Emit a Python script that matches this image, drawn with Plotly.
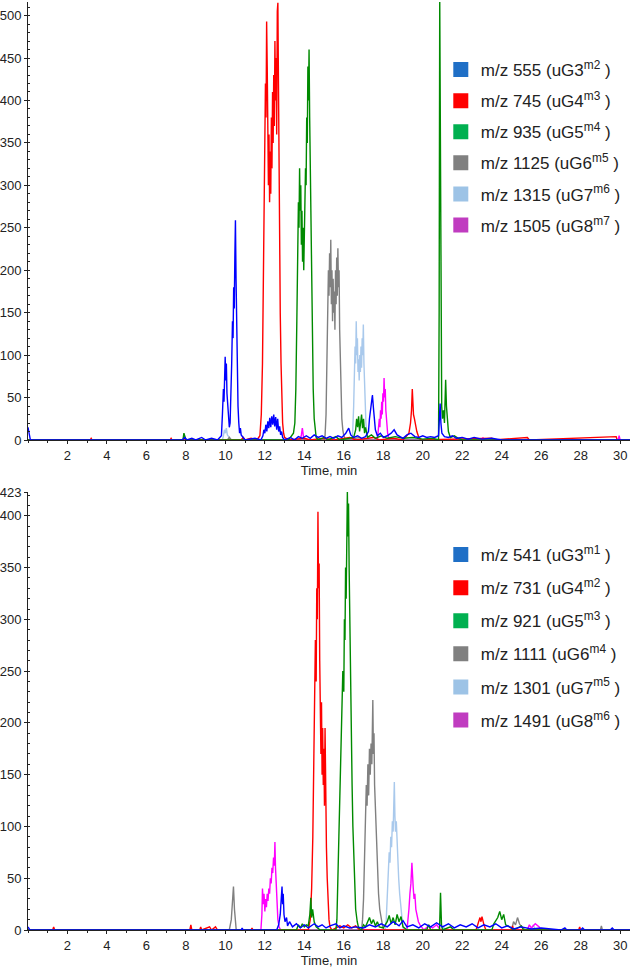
import plotly.graph_objects as go

# ---------------- data (time [min], intensity) ----------------
# Top panel: m/z 555 ... 1505
top_555 = [(0, 15), (0.06, 8), (0.12, 0), (7.8, 0), (7.95, 3), (8.05, 0), (8.3, 2), (8.5, 0), (8.8, 3), (9.0, 0),
           (9.3, 2), (9.6, 0), (9.8, 5), (9.85, 30), (9.9, 60), (9.93, 45), (9.96, 85), (9.99, 98), (10.02, 70),
           (10.05, 90), (10.08, 55), (10.12, 40), (10.16, 25), (10.2, 15), (10.24, 20), (10.28, 50), (10.32, 90),
           (10.36, 140), (10.39, 120), (10.42, 180), (10.45, 155), (10.48, 215), (10.51, 259), (10.54, 190),
           (10.57, 130), (10.6, 75), (10.64, 40), (10.68, 20), (10.72, 8), (10.76, 14), (10.8, 6), (10.9, 3),
           (11.0, 0), (11.5, 2), (11.8, 0), (11.9, 5), (11.95, 12), (12.0, 8), (12.05, 18), (12.1, 10), (12.15, 22),
           (12.2, 14), (12.25, 26), (12.3, 15), (12.35, 28), (12.4, 18), (12.45, 30), (12.5, 16), (12.55, 27),
           (12.6, 12), (12.65, 25), (12.7, 10), (12.75, 16), (12.8, 6), (12.85, 10), (12.9, 3), (13.0, 0), (13.3, 3),
           (13.5, 0), (13.7, 4), (13.9, 2), (14.1, 5), (14.3, 2), (14.5, 6), (14.7, 3), (14.9, 5), (15.1, 2),
           (15.3, 4), (15.5, 2), (15.7, 5), (15.9, 3), (16.1, 8), (16.25, 14), (16.35, 6), (16.5, 3), (16.7, 5),
           (16.9, 2), (17.1, 4), (17.25, 10), (17.3, 25), (17.35, 35), (17.4, 45), (17.45, 53), (17.5, 38),
           (17.55, 20), (17.6, 12), (17.7, 5), (17.85, 8), (18.0, 3), (18.2, 5), (18.4, 8), (18.55, 12), (18.7, 6),
           (18.85, 4), (19.0, 2), (19.2, 6), (19.4, 8), (19.6, 4), (19.8, 3), (20.0, 5), (20.2, 3), (20.4, 4),
           (20.6, 3), (20.8, 5), (20.85, 30), (20.88, 43), (20.92, 20), (20.97, 8), (21.1, 4), (21.3, 3), (21.5, 5),
           (21.7, 2), (22.0, 3), (22.3, 1), (22.6, 3), (23.0, 1), (23.5, 2), (24.0, 0), (30.5, 0)]
top_745 = [(0, 0), (3.15, 0), (3.2, 2), (3.25, 0), (7.2, 0), (7.25, 2), (7.3, 0), (10.8, 0), (10.9, 3), (11.0, 0),
           (11.3, 2), (11.6, 0), (11.75, 5), (11.82, 30), (11.88, 90), (11.93, 180), (11.97, 260), (12.0, 330),
           (12.03, 420), (12.06, 380), (12.09, 493), (12.12, 440), (12.15, 350), (12.18, 300), (12.21, 360),
           (12.24, 280), (12.27, 340), (12.3, 290), (12.33, 380), (12.36, 320), (12.39, 410), (12.42, 350),
           (12.45, 430), (12.48, 370), (12.51, 470), (12.54, 400), (12.57, 450), (12.6, 360), (12.63, 505),
           (12.66, 515), (12.69, 420), (12.72, 300), (12.75, 220), (12.78, 150), (12.82, 90), (12.86, 45),
           (12.9, 20), (12.95, 8), (13.0, 3), (13.2, 0), (14.0, 2), (14.3, 0), (15.0, 2), (15.5, 0), (16.3, 3),
           (16.6, 0), (17.5, 3), (17.8, 0), (18.5, 2), (19.0, 0), (19.3, 8), (19.38, 20), (19.43, 35), (19.47, 60),
           (19.5, 45), (19.53, 30), (19.58, 25), (19.63, 18), (19.7, 10), (19.8, 3), (19.9, 0), (23.5, 2),
           (23.6, 0), (25.3, 3), (25.4, 0), (29.8, 4), (29.85, 0), (30.5, 0)]
top_935 = [(0, 0), (7.85, 0), (7.9, 8), (7.95, 3), (8.0, 0), (13.2, 0), (13.3, 3), (13.45, 8), (13.52, 20),
           (13.57, 60), (13.62, 140), (13.66, 220), (13.7, 280), (13.73, 250), (13.76, 320), (13.79, 270),
           (13.82, 300), (13.85, 230), (13.88, 270), (13.91, 210), (13.94, 250), (13.97, 200), (14.0, 240),
           (14.03, 260), (14.06, 320), (14.09, 300), (14.12, 380), (14.15, 350), (14.18, 440), (14.21, 400),
           (14.24, 460), (14.27, 380), (14.3, 330), (14.33, 250), (14.37, 180), (14.41, 110), (14.45, 60),
           (14.5, 25), (14.55, 10), (14.6, 3), (14.7, 0), (15.0, 3), (15.2, 0), (15.6, 4), (15.8, 0), (16.5, 3),
           (16.6, 12), (16.65, 25), (16.7, 15), (16.75, 28), (16.8, 10), (16.85, 22), (16.9, 30), (16.95, 14),
           (17.0, 25), (17.05, 8), (17.1, 15), (17.2, 3), (17.4, 6), (17.6, 2), (17.9, 5), (18.2, 2), (18.6, 4),
           (19.0, 2), (19.5, 3), (20.0, 1), (20.5, 2), (20.8, 0), (20.83, 150), (20.86, 520), (20.88, 400),
           (20.9, 263), (20.93, 120), (20.96, 40), (21.0, 25), (21.05, 35), (21.1, 20), (21.13, 60), (21.16, 71),
           (21.2, 40), (21.25, 20), (21.3, 10), (21.4, 3), (21.6, 5), (21.8, 2), (22.0, 0), (30.5, 0)]
top_1125 = [(0, 0), (10.1, 0), (10.2, 3), (10.3, 0), (15.0, 0), (15.05, 5), (15.1, 30), (15.14, 80), (15.18, 150),
            (15.22, 200), (15.25, 170), (15.28, 220), (15.31, 180), (15.34, 236), (15.37, 160), (15.4, 200),
            (15.43, 140), (15.46, 190), (15.49, 150), (15.52, 175), (15.55, 130), (15.58, 200), (15.61, 160),
            (15.64, 215), (15.67, 170), (15.7, 226), (15.73, 180), (15.76, 200), (15.79, 130), (15.82, 90),
            (15.86, 50), (15.9, 25), (15.95, 12), (16.0, 5), (16.1, 0), (16.8, 3), (17.0, 0), (30.5, 0)]
top_1315 = [(0, 0), (9.85, 0), (9.9, 5), (9.95, 12), (10.0, 8), (10.05, 14), (10.1, 6), (10.2, 3), (10.3, 0),
            (16.4, 0), (16.45, 10), (16.5, 40), (16.54, 80), (16.57, 110), (16.6, 90), (16.63, 140), (16.66, 100),
            (16.69, 120), (16.72, 80), (16.75, 95), (16.78, 70), (16.81, 100), (16.84, 80), (16.87, 110),
            (16.9, 85), (16.93, 120), (16.96, 100), (16.99, 136), (17.02, 90), (17.05, 70), (17.08, 40),
            (17.12, 20), (17.17, 8), (17.25, 0), (30.5, 0)]
top_1505 = [(0, 0), (13.8, 0), (13.85, 6), (13.9, 14), (13.95, 5), (14.0, 0), (17.7, 0), (17.75, 10), (17.8, 25),
            (17.83, 15), (17.86, 35), (17.89, 25), (17.92, 45), (17.95, 30), (17.98, 55), (18.01, 45), (18.04, 73),
            (18.07, 50), (18.1, 60), (18.13, 35), (18.17, 20), (18.22, 8), (18.3, 0), (23.0, 0), (23.05, 3),
            (23.1, 0), (29.9, 0), (29.95, 5), (30.0, 0), (30.5, 0)]

# Bottom panel: m/z 541 ... 1491
bot_541 = [(0, 3), (0.1, 0), (10.8, 0), (10.85, 2), (10.9, 0), (12.6, 0), (12.7, 5), (12.78, 15), (12.83, 30),
           (12.87, 42), (12.9, 25), (12.93, 35), (12.97, 15), (13.02, 8), (13.1, 12), (13.15, 4), (13.25, 8),
           (13.4, 3), (13.6, 6), (13.8, 2), (14.0, 5), (14.2, 2), (14.5, 6), (14.7, 3), (14.9, 5), (15.1, 2),
           (15.3, 4), (15.6, 6), (15.8, 2), (16.0, 4), (16.3, 2), (16.6, 3), (17.0, 2), (17.3, 5), (17.6, 3),
           (17.9, 6), (18.2, 3), (18.5, 8), (18.8, 4), (19.0, 9), (19.2, 3), (19.5, 5), (19.8, 2), (20.1, 6),
           (20.4, 3), (20.7, 7), (21.0, 3), (21.3, 6), (21.6, 2), (21.9, 5), (22.2, 3), (22.5, 6), (22.8, 2),
           (23.1, 5), (23.4, 3), (23.7, 6), (24.0, 2), (24.3, 4), (24.6, 1), (25.0, 3), (25.5, 1), (26.0, 2),
           (27.0, 0), (27.2, 2), (27.3, 0), (28.0, 0), (28.1, 2), (28.2, 0), (29.5, 0), (29.6, 2), (29.7, 0),
           (30.5, 0)]
bot_731 = [(0, 0), (1.25, 0), (1.3, 3), (1.35, 0), (8.2, 0), (8.25, 5), (8.3, 0), (8.7, 0), (8.75, 3), (8.8, 0),
           (9.2, 3), (9.3, 0), (9.5, 3), (9.6, 0), (11.3, 0), (11.35, 2), (11.4, 0), (14.2, 0), (14.3, 10),
           (14.37, 40), (14.43, 90), (14.48, 150), (14.52, 200), (14.56, 280), (14.6, 240), (14.63, 330),
           (14.66, 300), (14.69, 404), (14.72, 330), (14.75, 354), (14.78, 260), (14.81, 230), (14.84, 170),
           (14.87, 220), (14.9, 150), (14.93, 195), (14.96, 140), (14.99, 175), (15.02, 120), (15.05, 195),
           (15.08, 110), (15.12, 80), (15.16, 50), (15.2, 25), (15.25, 10), (15.3, 3), (15.4, 0), (15.8, 4),
           (16.0, 2), (16.2, 5), (16.4, 2), (16.6, 4), (16.8, 0), (22.7, 0), (22.8, 5), (22.9, 12), (22.95, 8),
           (23.0, 13), (23.1, 5), (23.2, 0), (24.5, 0), (24.55, 4), (24.6, 0), (27.9, 0), (27.95, 3), (28.0, 0),
           (30.5, 0)]
bot_921 = [(0, 0), (13.6, 0), (13.7, 5), (13.8, 2), (13.9, 6), (14.0, 3), (14.1, 5), (14.2, 4), (14.28, 15),
           (14.33, 31), (14.37, 12), (14.42, 20), (14.5, 8), (14.6, 3), (14.8, 0), (15.6, 0), (15.65, 10),
           (15.7, 40), (15.75, 90), (15.8, 130), (15.85, 170), (15.9, 210), (15.95, 250), (16.0, 230),
           (16.03, 300), (16.06, 280), (16.09, 350), (16.12, 320), (16.15, 390), (16.18, 423), (16.21, 380),
           (16.24, 412), (16.27, 350), (16.3, 300), (16.34, 250), (16.38, 190), (16.42, 140), (16.46, 100),
           (16.5, 70), (16.55, 40), (16.6, 20), (16.68, 8), (16.75, 2), (16.9, 0), (17.0, 5), (17.1, 3), (17.2, 8),
           (17.3, 12), (17.4, 6), (17.5, 10), (17.6, 4), (17.7, 8), (17.8, 3), (18.0, 2), (18.2, 8), (18.3, 14),
           (18.4, 6), (18.5, 12), (18.6, 5), (18.7, 15), (18.8, 8), (18.9, 13), (19.0, 3), (19.2, 0), (20.2, 0),
           (20.3, 5), (20.4, 0), (20.85, 0), (20.9, 36), (20.95, 5), (21.0, 0), (21.4, 3), (21.6, 0), (23.5, 0),
           (23.6, 6), (23.8, 12), (23.9, 18), (24.0, 10), (24.1, 15), (24.2, 5), (24.4, 3), (24.6, 0), (25.0, 4),
           (25.1, 0), (30.5, 0)]
bot_1111 = [(0, 0), (10.2, 0), (10.3, 10), (10.35, 25), (10.41, 42), (10.46, 20), (10.5, 8), (10.55, 0),
            (16.9, 0), (16.95, 10), (17.0, 30), (17.05, 70), (17.1, 110), (17.14, 140), (17.18, 120), (17.22, 160),
            (17.26, 130), (17.3, 175), (17.34, 150), (17.38, 180), (17.42, 160), (17.47, 222), (17.5, 170),
            (17.53, 190), (17.56, 140), (17.6, 120), (17.64, 90), (17.7, 60), (17.76, 35), (17.82, 20), (17.9, 10),
            (17.97, 3), (18.05, 0), (24.5, 0), (24.6, 8), (24.7, 5), (24.8, 12), (24.9, 6), (25.0, 3), (25.2, 0),
            (29.0, 0), (29.05, 4), (29.1, 0), (30.5, 0)]
bot_1301 = [(0, 0), (18.1, 0), (18.15, 10), (18.2, 30), (18.25, 55), (18.3, 75), (18.34, 65), (18.38, 90),
            (18.42, 80), (18.46, 105), (18.5, 95), (18.53, 120), (18.56, 143), (18.59, 110), (18.62, 95),
            (18.66, 105), (18.7, 80), (18.74, 70), (18.78, 50), (18.83, 35), (18.88, 25), (18.93, 12), (18.99, 3),
            (19.05, 0), (21.0, 0), (21.05, 4), (21.1, 0), (25.5, 0), (25.6, 5), (25.7, 0), (30.5, 0)]
bot_1491 = [(0, 0), (11.8, 0), (11.85, 15), (11.88, 40), (11.92, 25), (11.96, 35), (12.0, 18), (12.04, 30),
            (12.08, 22), (12.12, 35), (12.16, 28), (12.2, 40), (12.24, 35), (12.28, 50), (12.32, 45), (12.36, 60),
            (12.4, 55), (12.44, 70), (12.48, 62), (12.51, 85), (12.54, 60), (12.58, 45), (12.62, 25), (12.66, 10),
            (12.72, 3), (12.8, 0), (19.2, 0), (19.25, 8), (19.3, 20), (19.35, 35), (19.4, 45), (19.45, 65),
            (19.48, 50), (19.52, 40), (19.56, 30), (19.6, 35), (19.65, 20), (19.7, 15), (19.78, 8), (19.86, 5),
            (19.95, 2), (20.05, 0), (20.3, 4), (20.5, 2), (20.7, 5), (20.9, 0), (25.3, 0), (25.4, 5), (25.5, 2),
            (25.7, 6), (25.9, 3), (26.0, 0), (30.5, 0)]

top_labels = ["m/z 555 (uG3<sup>m2</sup> )", "m/z 745 (uG4<sup>m3</sup> )", "m/z 935 (uG5<sup>m4</sup> )",
              "m/z 1125 (uG6<sup>m5</sup> )", "m/z 1315 (uG7<sup>m6</sup> )", "m/z 1505 (uG8<sup>m7</sup> )"]
bot_labels = ["m/z 541 (uG3<sup>m1</sup> )", "m/z 731 (uG4<sup>m2</sup> )", "m/z 921 (uG5<sup>m3</sup> )",
              "m/z 1111 (uG6<sup>m4</sup> )", "m/z 1301 (uG7<sup>m5</sup> )", "m/z 1491 (uG8<sup>m6</sup> )"]

x_ticks = list(range(2, 31, 2))
top_yticks = list(range(0, 501, 50))
bot_yticks = list(range(0, 401, 50)) + [423]

# ---------------- styling ----------------
line_colors = ["#0000ff", "#ff0000", "#008a00", "#808080", "#a9c9ec", "#ff00ff"]
legend_colors = ["#1f6fc6", "#ff0000", "#00b050", "#808080", "#9dc3e6", "#c03cc0"]
draw_order = [4, 5, 3, 1, 2, 0]

FONT = "Liberation Sans, Arial, sans-serif"
W, H = 630, 968

fig = go.Figure()

top_series = [top_555, top_745, top_935, top_1125, top_1315, top_1505]
bot_series = [bot_541, bot_731, bot_921, bot_1111, bot_1301, bot_1491]

for panel, series, xa, ya in [(0, top_series, "x", "y"), (1, bot_series, "x2", "y2")]:
    for i in draw_order:
        t, v = zip(*series[i])
        fig.add_trace(go.Scatter(x=list(t), y=list(v), mode="lines", xaxis=xa, yaxis=ya,
                                 line=dict(color=line_colors[i], width=1.4), showlegend=False,
                                 hoverinfo="skip"))

# legend entries
for panel, labels, lg in [(0, top_labels, "legend"), (1, bot_labels, "legend2")]:
    for i, lab in enumerate(labels):
        fig.add_trace(go.Scatter(x=[None], y=[None], mode="markers", name=lab, legend=lg,
                                 legendgroup=f"{lg}{i}",
                                 xaxis="x" if panel == 0 else "x2", yaxis="y" if panel == 0 else "y2",
                                 marker=dict(symbol="square", size=15, color=legend_colors[i])))

axis_common = dict(showline=True, linecolor="#222", linewidth=1, showgrid=False, zeroline=False,
                   ticks="outside", ticklen=3, tickcolor="#222", automargin=False,
                   tickfont=dict(family=FONT, size=13, color="#222"))


def px_to_y(p):
    return 1 - p / H


fig.update_layout(
    width=W, height=H, plot_bgcolor="white", paper_bgcolor="white",
    margin=dict(l=28, r=0, t=0, b=0),
    font=dict(family=FONT, color="#222"),
    xaxis=dict(domain=[0, 1], range=[0, 30.5], anchor="y", tickvals=x_ticks,
               minor=dict(dtick=1, tick0=0, ticks="outside", ticklen=2, tickcolor="#222"),
               title=dict(text="Time, min", font=dict(family=FONT, size=13), standoff=0), **axis_common),
    yaxis=dict(domain=[px_to_y(440), px_to_y(2)], range=[0, 516], anchor="x", tickvals=top_yticks,
               minor=dict(dtick=10, tick0=0, ticks="inside", ticklen=2, tickcolor="#222"), **axis_common),
    xaxis2=dict(domain=[0, 1], range=[0, 30.5], anchor="y2", tickvals=x_ticks,
                minor=dict(dtick=1, tick0=0, ticks="outside", ticklen=2, tickcolor="#222"),
                title=dict(text="Time, min", font=dict(family=FONT, size=13), standoff=0), **axis_common),
    yaxis2=dict(domain=[px_to_y(930), px_to_y(492)], range=[0, 423], anchor="x2", tickvals=bot_yticks,
                minor=dict(dtick=10, tick0=0, ticks="inside", ticklen=2, tickcolor="#222"), **axis_common),
    legend=dict(x=432 / W, y=px_to_y(52), xanchor="left", yanchor="top", bgcolor="rgba(0,0,0,0)",
                font=dict(family=FONT, size=17, color="#222"), tracegroupgap=6, itemwidth=30),
    legend2=dict(x=432 / W, y=px_to_y(537), xanchor="left", yanchor="top", bgcolor="rgba(0,0,0,0)",
                 font=dict(family=FONT, size=17, color="#222"), tracegroupgap=8, itemwidth=30),
)

fig.write_html("out.html", config={"displayModeBar": False},
               post_script="document.body.style.margin='0';document.body.style.overflow='hidden';")
